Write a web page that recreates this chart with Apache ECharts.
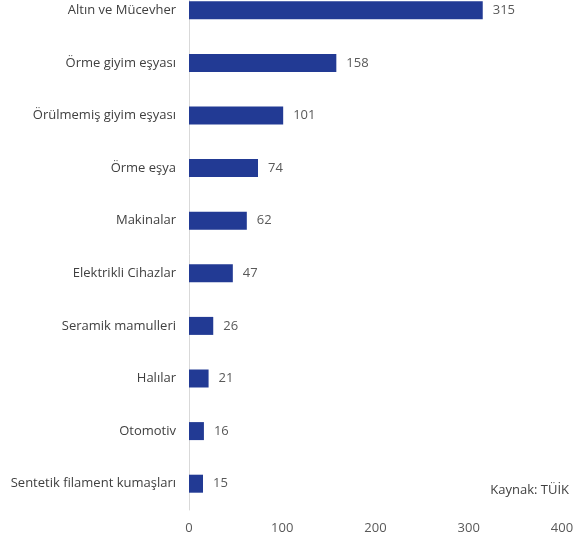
<!DOCTYPE html>
<html>
<head>
<meta charset="utf-8">
<script src="https://cdn.jsdelivr.net/npm/echarts@6/dist/echarts.min.js"></script>
<style>html,body{margin:0;padding:0;background:#fff}#c{width:573px;height:546px}</style>
</head>
<body>
<div id="c"></div>
<script>
var categories = ["Altın ve Mücevher","Örme giyim eşyası","Örülmemiş giyim eşyası","Örme eşya","Makinalar","Elektrikli Cihazlar","Seramik mamulleri","Halılar","Otomotiv","Sentetik filament kumaşları"];
var values = [315,158,101,74,62,47,26,21,16,15];
var xTicks = [0,100,200,300,400];
var sourceText = "Kaynak: TÜİK";

var chart = echarts.init(document.getElementById('c'));
var font = "'Open Sans', 'Noto Sans', sans-serif";
chart.setOption({
  animation: false,
  grid: {left: 189, right: 11, top: -16, height: 526, containLabel: false, outerBoundsMode: 'none'},
  xAxis: {
    type: 'value', min: xTicks[0], max: xTicks[xTicks.length-1], interval: 100,
    axisLine: {show: false}, axisTick: {show: false}, splitLine: {show: false},
    axisLabel: {color: '#595959', fontSize: 13, fontFamily: font, margin: 12}
  },
  yAxis: {
    type: 'category', data: categories, inverse: true,
    axisLine: {show: true, lineStyle: {color: '#d9d9d9', width: 1}},
    axisTick: {show: false},
    axisLabel: {color: '#404040', fontSize: 13, fontFamily: font, margin: 13}
  },
  series: [{
    type: 'bar', data: values, barWidth: 18,
    itemStyle: {color: '#223a94'},
    label: {show: true, position: 'right', distance: 10, color: '#595959', fontSize: 13, fontFamily: font}
  }],
  graphic: [{
    type: 'text', right: 4, top: 484,
    style: {text: sourceText, fill: '#404040', font: "13px 'Open Sans', 'Noto Sans', sans-serif"}
  }]
});
</script>
</body>
</html>
